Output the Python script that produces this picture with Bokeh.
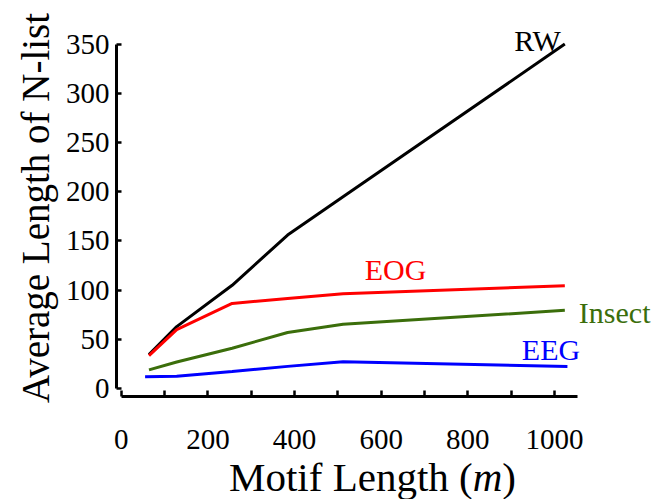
from bokeh.plotting import figure
from bokeh.models import Range1d, FixedTicker, Label, Div
from bokeh.layouts import column
from bokeh.embed import file_html
from bokeh.resources import INLINE

# ---- data ----
motif_len = [64, 128, 256, 384, 512, 1024]
rw = [34.5, 63, 105, 156, 195, 350]
eog = [33.5, 60, 86.5, 91.5, 96.5, 104.5]
insect = [19, 27, 41, 57, 65.5, 79.5]
eeg_len = [55, 128, 256, 384, 512, 1030]
eeg = [12, 12.5, 17.5, 22.6, 27.4, 22.6]

x_ticks = [0, 200, 400, 600, 800, 1000]
x_minor = [100, 300, 500, 700, 900]
y_ticks = [0, 50, 100, 150, 200, 250, 300, 350]

SERIF = "Liberation Serif"
GREEN = "#3b6e0b"

p = figure(width=654, height=457, output_backend="svg", toolbar_location=None,
           x_range=Range1d(-11, 1231), y_range=Range1d(-8, 375),
           min_border_left=116, min_border_right=0, min_border_top=19,
           min_border_bottom=61)
p.margin = (0, 0, 0, 0)
p.outline_line_color = None
p.grid.visible = False
p.background_fill_color = "white"

lw = 3
p.line(motif_len, rw, line_color="black", line_width=lw)
p.line(motif_len, eog, line_color="red", line_width=lw)
p.line(motif_len, insect, line_color=GREEN, line_width=lw)
p.line(eeg_len, eeg, line_color="blue", line_width=lw)

# axes
xa = p.xaxis[0]
xa.ticker = FixedTicker(ticks=x_ticks, minor_ticks=x_minor)
xa.bounds = (0, 1054)
xa.axis_line_width = 3
xa.major_tick_in = 6
xa.major_tick_out = 0
xa.minor_tick_in = 6
xa.minor_tick_out = 0
xa.major_tick_line_width = 2.5
xa.minor_tick_line_width = 2.5
xa.major_label_text_font = SERIF
xa.major_label_text_font_size = "29px"
xa.major_label_text_color = "black"
xa.major_label_standoff = 33

ya = p.yaxis[0]
ya.ticker = FixedTicker(ticks=y_ticks)
ya.bounds = (0, 350)
ya.axis_line_width = 3
ya.major_tick_in = 5
ya.major_tick_out = 0
ya.minor_tick_line_color = None
ya.major_tick_line_width = 2.5
ya.major_label_text_font = SERIF
ya.major_label_text_font_size = "29px"
ya.major_label_text_color = "black"
ya.major_label_standoff = 7
ya.axis_label = "Average Length of N-list"
ya.axis_label_text_font = SERIF
ya.axis_label_text_font_size = "39px"
ya.axis_label_text_font_style = "normal"
ya.axis_label_text_color = "black"
ya.axis_label_standoff = 6

# series labels
def tag(x, y, t, c):
    p.add_layout(Label(x=x, y=y, text=t, text_align="center",
                       text_baseline="alphabetic", text_font=SERIF,
                       text_font_size="30px", text_color=c))

tag(961, 354, "RW", "black")
tag(633, 121, "EOG", "red")
tag(1139, 77, "Insect", GREEN)
tag(992, 40, "EEG", "blue")

# x-axis title (with italic m) as real HTML text under the plot
xtitle = Div(
    text=("<div style=\"font-family:'Liberation Serif',serif;font-size:41px;"
          "line-height:1;color:black;padding-left:229px;white-space:nowrap;\">"
          "Motif Length (<i>m</i>)</div>"),
    width=654, height=41, margin=(0, 0, 0, 0))

layout = column(p, xtitle, spacing=0)
open("out.html", "w").write(file_html(layout, INLINE))
